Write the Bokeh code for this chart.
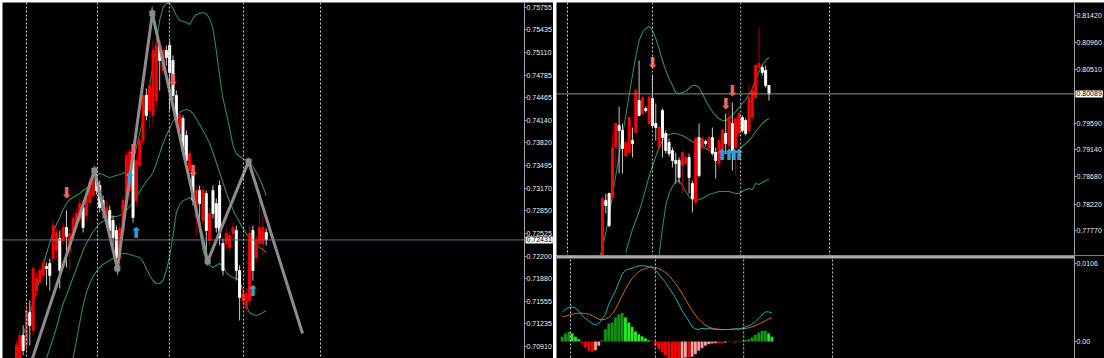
from bokeh.plotting import figure
from bokeh.layouts import row, column
from bokeh.models import Range1d, FixedTicker, Span, Label, PrintfTickFormatter
from bokeh.core.properties import value
from bokeh.embed import file_html
from bokeh.resources import INLINE

# ---------------- LEFT CHART (price 0.709 - 0.758) ----------------
left_open = [
    0.70636, 0.70707, 0.71065, 0.70922, 0.71393, 0.71136, 0.71708, 0.71822, 0.71923, 0.72051,
    0.72094, 0.72166, 0.72280, 0.72452, 0.72423, 0.72609, 0.72280, 0.72480, 0.72652, 0.72738,
    0.72895, 0.72781, 0.72966, 0.73067, 0.73310, 0.73210, 0.72995, 0.72695, 0.72852, 0.72709,
    0.72566, 0.72166, 0.72566, 0.72995, 0.73138, 0.73681, 0.72995, 0.73496, 0.73853, 0.74497,
    0.74282, 0.74211, 0.74425, 0.75212, 0.74854, 0.75140, 0.75212, 0.74997, 0.74497, 0.73996,
    0.74168, 0.73925, 0.73424, 0.73424, 0.72752, 0.73138, 0.72709, 0.73095, 0.72423, 0.73138,
    0.72952, 0.73210, 0.72380, 0.72380, 0.72323, 0.72523, 0.72566, 0.71994, 0.71565, 0.71465,
    0.71565, 0.72566, 0.72180, 0.72380, 0.72380, 0.72537]
left_high = [
    0.70993, 0.71136, 0.71208, 0.71494, 0.71565, 0.72066, 0.71965, 0.72051, 0.72166, 0.72108,
    0.72166, 0.72709, 0.72595, 0.72566, 0.72680, 0.72852, 0.72595, 0.72823, 0.72881, 0.73024,
    0.72952, 0.73109, 0.73310, 0.73395, 0.73424, 0.73281, 0.73067, 0.72995, 0.72924, 0.72781,
    0.72638, 0.72680, 0.73067, 0.73710, 0.73739, 0.73739, 0.73639, 0.73925, 0.74568, 0.74597,
    0.74711, 0.75283, 0.75283, 0.75283, 0.75212, 0.75212, 0.75283, 0.75069, 0.74568, 0.74282,
    0.74211, 0.73996, 0.73710, 0.73496, 0.73210, 0.73210, 0.73210, 0.73138, 0.72881, 0.73210,
    0.73024, 0.73281, 0.72452, 0.72595, 0.72566, 0.72680, 0.72638, 0.72066, 0.71737, 0.71737,
    0.72638, 0.72638, 0.72495, 0.73138, 0.72781, 0.72595]
left_low = [
    0.70564, 0.70678, 0.70779, 0.70850, 0.70922, 0.71065, 0.71622, 0.71780, 0.71851, 0.71780,
    0.71708, 0.72108, 0.72166, 0.71737, 0.72366, 0.72037, 0.71994, 0.72423, 0.72595, 0.72680,
    0.72537, 0.72709, 0.72909, 0.73024, 0.73081, 0.72823, 0.72738, 0.72595, 0.72480, 0.72352,
    0.72023, 0.72066, 0.72495, 0.72924, 0.72995, 0.72680, 0.72924, 0.73424, 0.73782, 0.74139,
    0.74025, 0.74068, 0.74354, 0.74568, 0.74783, 0.74926, 0.74282, 0.74425, 0.74068, 0.73953,
    0.73639, 0.73496, 0.73353, 0.72924, 0.72495, 0.72566, 0.72638, 0.72108, 0.72352, 0.72738,
    0.72537, 0.72352, 0.71923, 0.72280, 0.72251, 0.72452, 0.71851, 0.71279, 0.71494, 0.71422,
    0.71494, 0.71851, 0.72108, 0.72309, 0.72209, 0.72352]
left_close = [
    0.70922, 0.71065, 0.70850, 0.71422, 0.71208, 0.72023, 0.71880, 0.71994, 0.72108, 0.72023,
    0.71923, 0.72638, 0.72537, 0.71994, 0.72609, 0.72480, 0.72523, 0.72738, 0.72809, 0.72952,
    0.72609, 0.73038, 0.73252, 0.73310, 0.73138, 0.72895, 0.72852, 0.72895, 0.72566, 0.72466,
    0.72180, 0.72595, 0.72995, 0.73639, 0.73681, 0.72752, 0.73567, 0.73853, 0.74497, 0.74211,
    0.74640, 0.75140, 0.75212, 0.74997, 0.75140, 0.75040, 0.74825, 0.74497, 0.74139, 0.74211,
    0.73710, 0.73567, 0.73667, 0.72995, 0.73138, 0.72952, 0.73138, 0.72566, 0.72809, 0.72809,
    0.72609, 0.72466, 0.71994, 0.72523, 0.72495, 0.72609, 0.71994, 0.71608, 0.71665, 0.71665,
    0.72523, 0.71994, 0.72423, 0.72609, 0.72609, 0.72431]

left_upper = [
    0.70750, 0.70907, 0.71065, 0.71222, 0.71379, 0.71536, 0.71708, 0.71880, 0.72066, 0.72237,
    0.72394, 0.72537, 0.72652, 0.72752, 0.72866, 0.72952, 0.73009, 0.73038, 0.73067, 0.73095,
    0.73138, 0.73167, 0.73210, 0.73281, 0.73353, 0.73381, 0.73367, 0.73338, 0.73324, 0.73338,
    0.73353, 0.73367, 0.73381, 0.73410, 0.73481, 0.73596, 0.73753, 0.73953, 0.74168, 0.74396,
    0.74640, 0.74926, 0.75254, 0.75569, 0.75755, 0.75812, 0.75812, 0.75741, 0.75641, 0.75569,
    0.75555, 0.75540, 0.75512, 0.75598, 0.75655, 0.75669, 0.75683, 0.75669, 0.75598, 0.75455,
    0.75140, 0.74783, 0.74454, 0.74253, 0.74025, 0.73782, 0.73667, 0.73624, 0.73596, 0.73567,
    0.73538, 0.73481, 0.73395, 0.73310, 0.73195, 0.73067]
left_middle_start = 8
left_middle = [
    0.70593, 0.70736, 0.70879, 0.71022, 0.71179, 0.71351, 0.71522, 0.71637, 0.71765, 0.71894,
    0.72023, 0.72151, 0.72280, 0.72380, 0.72466, 0.72552, 0.72609, 0.72666, 0.72695, 0.72723,
    0.72752, 0.72766, 0.72766, 0.72781, 0.72809, 0.72852, 0.72909, 0.72966, 0.73038, 0.73124,
    0.73195, 0.73267, 0.73324, 0.73395, 0.73524, 0.73667, 0.73810, 0.73925, 0.74025, 0.74125,
    0.74196, 0.74253, 0.74282, 0.74296, 0.74282, 0.74239, 0.74168, 0.74082, 0.73996, 0.73910,
    0.73810, 0.73681, 0.73538, 0.73395, 0.73252, 0.73109, 0.72981, 0.72866, 0.72766, 0.72680,
    0.72595, 0.72523, 0.72452, 0.72394, 0.72352, 0.72323, 0.72294, 0.72251]
left_lower_start = 16
left_lower = [
    0.70593, 0.70736, 0.70993, 0.71250, 0.71494, 0.71679, 0.71808, 0.71908, 0.71980, 0.72037,
    0.72080, 0.72108, 0.72137, 0.72166, 0.72194, 0.72223, 0.72237, 0.72237, 0.72223, 0.72209,
    0.72194, 0.72180, 0.72123, 0.72023, 0.71923, 0.71851, 0.71808, 0.71808, 0.71851, 0.71994,
    0.72194, 0.72495, 0.72823, 0.72938, 0.72995, 0.73009, 0.73038, 0.72995, 0.72852, 0.72566,
    0.72280, 0.72137, 0.72066, 0.72037, 0.72066, 0.72094, 0.72051, 0.71965, 0.71923, 0.71894,
    0.71880, 0.71851, 0.71708, 0.71479, 0.71393, 0.71365, 0.71351, 0.71365, 0.71393, 0.71422]

zigzag_bar = [3.5, 23.4, 30.3, 40.8, 57.4, 69.7, 85.9]
zigzag_price = [0.70550, 0.73424, 0.72023, 0.75669, 0.72123, 0.73553, 0.71093]

left_down_bar = [15, 35, 47, 53]
left_down_price = [0.73109, 0.73710, 0.74725, 0.73410]
left_up_bar = [34, 36, 71]
left_up_price = [0.73310, 0.72537, 0.71708]

left_separators = [3, 24.3, 45.9, 68.2, 91.3]
left_ticks = [0.75755, 0.75435, 0.75110, 0.74785, 0.74465, 0.74140, 0.73820, 0.73495,
              0.73170, 0.72850, 0.72525, 0.72200, 0.71880, 0.71555, 0.71235, 0.70910]

# ---------------- RIGHT CHART (price 0.777 - 0.816) ----------------
right_first_bar = 13
right_open = [
    0.77176, 0.78279, 0.78398, 0.78330, 0.79179, 0.79553, 0.79468, 0.79043, 0.79094, 0.79298,
    0.79434, 0.79977, 0.79756, 0.79841, 0.79587, 0.80011, 0.79587, 0.79179, 0.79807, 0.79417,
    0.79264, 0.79128, 0.78959, 0.78959, 0.78874, 0.78908, 0.79009, 0.78568, 0.78245, 0.79349,
    0.79179, 0.79281, 0.79162, 0.79349, 0.79094, 0.78908, 0.79077, 0.79417, 0.79213, 0.79587,
    0.79179, 0.79417, 0.79688, 0.79638, 0.79468, 0.79688, 0.80028, 0.80538, 0.80538, 0.80487,
    0.80232]
right_high = [
    0.78347, 0.78398, 0.78415, 0.79434, 0.79604, 0.79875, 0.79587, 0.79298, 0.79688, 0.79519,
    0.80181, 0.80656, 0.80062, 0.79875, 0.80062, 0.80402, 0.79926, 0.79553, 0.79841, 0.79468,
    0.79332, 0.79179, 0.79094, 0.79009, 0.79128, 0.79043, 0.79077, 0.78619, 0.79349, 0.79587,
    0.79366, 0.79315, 0.79383, 0.79519, 0.79179, 0.79332, 0.79502, 0.79756, 0.79807, 0.79943,
    0.79688, 0.79790, 0.79723, 0.79672, 0.80266, 0.80181, 0.80606, 0.81233, 0.80572, 0.80572,
    0.80232]
right_low = [
    0.77091, 0.78059, 0.77821, 0.78279, 0.78840, 0.78738, 0.78738, 0.79009, 0.79077, 0.79009,
    0.79417, 0.79706, 0.79723, 0.79773, 0.79553, 0.79519, 0.79298, 0.79128, 0.79009, 0.79077,
    0.79026, 0.78840, 0.78568, 0.78568, 0.78398, 0.78857, 0.78398, 0.78076, 0.78228, 0.78670,
    0.79128, 0.79196, 0.79094, 0.79043, 0.78653, 0.78823, 0.79009, 0.79077, 0.78992, 0.78789,
    0.78704, 0.79383, 0.79434, 0.79383, 0.79434, 0.79655, 0.80011, 0.80504, 0.80402, 0.80198,
    0.79977]
right_close = [
    0.78313, 0.78194, 0.77855, 0.79179, 0.79587, 0.79468, 0.79162, 0.79264, 0.79688, 0.79247,
    0.80147, 0.79723, 0.80028, 0.79807, 0.80028, 0.79553, 0.79519, 0.79519, 0.79349, 0.79128,
    0.79077, 0.78959, 0.78908, 0.78670, 0.79094, 0.79009, 0.78670, 0.78313, 0.79332, 0.78704,
    0.79332, 0.79247, 0.79349, 0.79077, 0.78959, 0.79298, 0.79468, 0.79247, 0.79688, 0.79128,
    0.79672, 0.79756, 0.79468, 0.79417, 0.80028, 0.80147, 0.80572, 0.80606, 0.80453, 0.80232,
    0.80089]

right_upper_start = 12
right_upper = [
    0.77295, 0.77465, 0.77736, 0.78025, 0.78364, 0.78704, 0.79043, 0.79383, 0.79723, 0.80062,
    0.80402, 0.80724, 0.80996, 0.81132, 0.81200, 0.81234, 0.81166, 0.81030, 0.80860, 0.80656,
    0.80487, 0.80351, 0.80232, 0.80113, 0.80096, 0.80113, 0.80130, 0.80181, 0.80232, 0.80232,
    0.80198, 0.80096, 0.79977, 0.79875, 0.79790, 0.79723, 0.79672, 0.79638, 0.79638, 0.79672,
    0.79723, 0.79790, 0.79858, 0.79926, 0.79994, 0.80079, 0.80181, 0.80317, 0.80470, 0.80588,
    0.80656, 0.80707]
right_middle_start = 20
right_middle = [
    0.77397, 0.77600, 0.77787, 0.77940, 0.78093, 0.78279, 0.78483, 0.78687, 0.78857, 0.79026,
    0.79179, 0.79298, 0.79366, 0.79400, 0.79417, 0.79417, 0.79400, 0.79383, 0.79349, 0.79315,
    0.79281, 0.79247, 0.79230, 0.79196, 0.79162, 0.79128, 0.79111, 0.79094, 0.79077, 0.79077,
    0.79077, 0.79077, 0.79094, 0.79111, 0.79145, 0.79196, 0.79247, 0.79298, 0.79366, 0.79451,
    0.79519, 0.79587, 0.79638, 0.79672]
right_lower_start = 30
right_lower = [
    0.77346, 0.77804, 0.78195, 0.78398, 0.78517, 0.78602, 0.78619, 0.78534, 0.78432, 0.78347,
    0.78296, 0.78279, 0.78296, 0.78313, 0.78347, 0.78381, 0.78398, 0.78415, 0.78432, 0.78432,
    0.78432, 0.78432, 0.78415, 0.78398, 0.78398, 0.78432, 0.78466, 0.78483, 0.78466, 0.78568,
    0.78551, 0.78585, 0.78619, 0.78636]

right_down_bar = [28, 50, 52]
right_down_price = [0.80622, 0.79926, 0.80147]
right_up_bar = [49, 51, 52.5, 54]
right_up_price = [0.79060, 0.79060, 0.79060, 0.79060]

right_separators = [2.5, 28, 54.5, 81.2]
right_ticks = [0.81420, 0.80960, 0.80510, 0.79590, 0.79140, 0.78680, 0.78220, 0.77770]

# ---------------- MACD (lower right) ----------------
macd_hist = [
    0.00064, 0.00109, 0.00132, 0.00113, 0.00064, 0.00031, -0.00023, -0.00082, -0.00126, -0.00140,
    -0.00118, -0.00058, 0.00018, 0.00167, 0.00245, 0.00258, 0.00326, 0.00371, 0.00390, 0.00326,
    0.00258, 0.00200, 0.00136, 0.00099, 0.00072, 0.00045, 0.00018, 0.00004, -0.00058, -0.00105,
    -0.00149, -0.00194, -0.00227, -0.00227, -0.00235, -0.00235, -0.00227, -0.00217, -0.00217, -0.00208,
    -0.00173, -0.00126, -0.00091, -0.00058, -0.00037, -0.00027, -0.00023, -0.00023, -0.00027, -0.00014,
    -0.00004, 0.00004, -0.00014, -0.00004, 0.00010, 0.00018, 0.00031, 0.00054, 0.00091, 0.00122,
    0.00145, 0.00145, 0.00109, 0.00064]
macd_main = [
    0.00394, 0.00439, 0.00462, 0.00471, 0.00453, 0.00417, 0.00349, 0.00313, 0.00281, 0.00245,
    0.00227, 0.00245, 0.00304, 0.00371, 0.00507, 0.00598, 0.00689, 0.00802, 0.00915, 0.00969,
    0.00983, 0.00997, 0.01015, 0.01028, 0.01028, 0.01028, 0.01019, 0.01006, 0.00969, 0.00915,
    0.00861, 0.00802, 0.00734, 0.00666, 0.00598, 0.00507, 0.00417, 0.00349, 0.00281, 0.00199,
    0.00172, 0.00163, 0.00181, 0.00172, 0.00181, 0.00172, 0.00163, 0.00163, 0.00159, 0.00163,
    0.00163, 0.00168, 0.00172, 0.00172, 0.00181, 0.00199, 0.00213, 0.00236, 0.00272, 0.00313,
    0.00358, 0.00403, 0.00403, 0.00385]
macd_signal = [
    0.00335, 0.00344, 0.00358, 0.00371, 0.00381, 0.00385, 0.00385, 0.00381, 0.00371, 0.00349,
    0.00326, 0.00304, 0.00294, 0.00304, 0.00326, 0.00371, 0.00439, 0.00530, 0.00621, 0.00711,
    0.00788, 0.00856, 0.00906, 0.00947, 0.00974, 0.00992, 0.01006, 0.01015, 0.01006, 0.00992,
    0.00969, 0.00938, 0.00901, 0.00847, 0.00788, 0.00725, 0.00652, 0.00575, 0.00498, 0.00426,
    0.00358, 0.00304, 0.00258, 0.00222, 0.00199, 0.00181, 0.00172, 0.00168, 0.00163, 0.00163,
    0.00163, 0.00163, 0.00168, 0.00168, 0.00172, 0.00177, 0.00186, 0.00199, 0.00217, 0.00236,
    0.00258, 0.00281, 0.00304, 0.00322]
macd_ticks = [0.0106, 0.0]
macd_tick_labels = ["0.0106", "0.00"]

# ---------------- styling / layout helpers ----------------
FONT = "Liberation Sans"
LABEL_SIZE = "7px"
BB_COLOR = "#2e8b57"
DOWN_ARROW = "#f0645a"
UP_ARROW = "#2aa2d8"
PX = 3.33  # pixels per bar


def base_fig(width, height, x0, axis_px, yr, ticks, margin):
    xr = Range1d(x0, x0 + width / PX)
    p = figure(width=width, height=height, x_range=xr, y_range=Range1d(*yr),
               output_backend="svg", toolbar_location=None, y_axis_location="right",
               x_axis_location=None, min_border_left=0, min_border_top=0,
               min_border_bottom=0, min_border_right=0,
               background_fill_color="black", border_fill_color="black",
               outline_line_color=None, margin=margin)
    p.xgrid.visible = False
    p.ygrid.visible = False
    ax = p.yaxis[0]
    ax.fixed_location = x0 + axis_px / PX
    ax.ticker = FixedTicker(ticks=ticks)
    ax.axis_line_color = "#a0a0a0"
    ax.major_tick_line_color = "#a0a0a0"
    ax.major_tick_in = 0
    ax.major_tick_out = 2
    ax.minor_tick_line_color = None
    ax.major_label_standoff = 0
    ax.major_label_text_color = "#f0f0f0"
    ax.major_label_text_font = FONT
    ax.major_label_text_font_size = LABEL_SIZE
    return p, x0 + axis_px / PX


def candles(p, first, o, h, l, c):
    xs = [first + k for k in range(len(o))]
    bull = [ci >= oi for oi, ci in zip(o, c)]
    body = ["#ff0000" if b else "#ffffff" for b in bull]
    wick = ["#a80000" if b else "#c8c8c8" for b in bull]
    p.segment(xs, h, xs, l, line_color=wick, line_width=1)
    p.vbar(x=xs, width=0.6, top=[max(a, b) for a, b in zip(o, c)],
           bottom=[min(a, b) for a, b in zip(o, c)], fill_color=body,
           line_color=body, line_width=1)


def band(p, start, vals):
    p.line([start + k for k in range(len(vals))], vals, line_color=BB_COLOR, line_width=1.1)


def arrows(p, xs, ys, ch, color):
    p.text(xs, ys, text=[ch] * len(xs), text_font=value("DejaVu Sans"),
           text_font_size="15px", text_color=color,
           text_align="center", text_baseline="middle")


def separators(p, xs):
    for x in xs:
        p.add_layout(Span(location=x, dimension="height", line_color="#cccccc",
                          line_width=1, line_dash="2 2"))


def price_label(p, axis_x, price, line_color):
    p.segment([p.x_range.start], [price], [axis_x], [price], line_color=line_color, line_width=1)
    p.add_layout(Label(x=axis_x, y=price, x_offset=1, text="%.5f" % price, text_font=FONT,
                       text_font_size=LABEL_SIZE, text_color="black", text_baseline="middle",
                       text_align="left", background_fill_color="white", padding=1))


# ---------------- left figure ----------------
left, l_axis = base_fig(551, 356, -4.20, 522, (0.70736, 0.75826), left_ticks, (2, 0, 0, 2))
left.yaxis[0].formatter = PrintfTickFormatter(format="%.5f")
separators(left, left_separators)
band(left, 0, left_upper)
band(left, left_middle_start, left_middle)
band(left, left_lower_start, left_lower)
candles(left, 0, left_open, left_high, left_low, left_close)
left.line(zigzag_bar, zigzag_price, line_color="#8c8c8c", line_width=3, line_join="miter")
left.scatter(zigzag_bar[1:-1], zigzag_price[1:-1], marker="square", size=5, color="#8c8c8c")
arrows(left, left_down_bar, left_down_price, "\u2b07", DOWN_ARROW)
arrows(left, left_up_bar, left_up_price, "\u2b06", UP_ARROW)
price_label(left, l_axis, left_close[-1], "#6a7186")

# ---------------- right main figure ----------------
rtop, r_axis = base_fig(548, 253, -0.81, 518, (0.77346, 0.81641), right_ticks, (2, 0, 0, 3))
rtop.yaxis[0].formatter = PrintfTickFormatter(format="%.5f")
separators(rtop, right_separators)
band(rtop, right_upper_start, right_upper)
band(rtop, right_middle_start, right_middle)
band(rtop, right_lower_start, right_lower)
candles(rtop, right_first_bar, right_open, right_high, right_low, right_close)
arrows(rtop, right_down_bar, right_down_price, "\u2b07", DOWN_ARROW)
arrows(rtop, right_up_bar, right_up_price, "\u2b06", UP_ARROW)
price_label(rtop, r_axis, right_close[-1], "#8c8c8c")

# ---------------- MACD figure ----------------
rbot, b_axis = base_fig(548, 103, -1.71, 518, (-0.00231, 0.01169), macd_ticks, (0, 0, 0, 3))
rbot.yaxis[0].major_label_overrides = {t: s for t, s in zip(macd_ticks, macd_tick_labels)}
separators(rbot, right_separators)
mx = list(range(len(macd_hist)))
hist_colors = []
for k, v in enumerate(macd_hist):
    prev = macd_hist[k - 1] if k > 0 else 0.0
    if v >= 0:
        hist_colors.append("#0c9a0c" if v >= prev else "#22ee22")
    else:
        hist_colors.append("#ff0000" if v <= prev else "#ff9c9c")
rbot.vbar(x=mx, width=0.85, top=macd_hist, bottom=0, fill_color=hist_colors,
          line_color=None)
rbot.line(mx, macd_signal, line_color="#d2691e", line_width=1)
rbot.line(mx, macd_main, line_color="#1fb0b8", line_width=1)
sep_y = 0.01149
rbot.segment([rbot.x_range.start], [sep_y], [b_axis], [sep_y], line_color="#a8a8a8", line_width=3)

layout = row(left, column(rtop, rbot))
open("out.html", "w").write(file_html(layout, INLINE))
